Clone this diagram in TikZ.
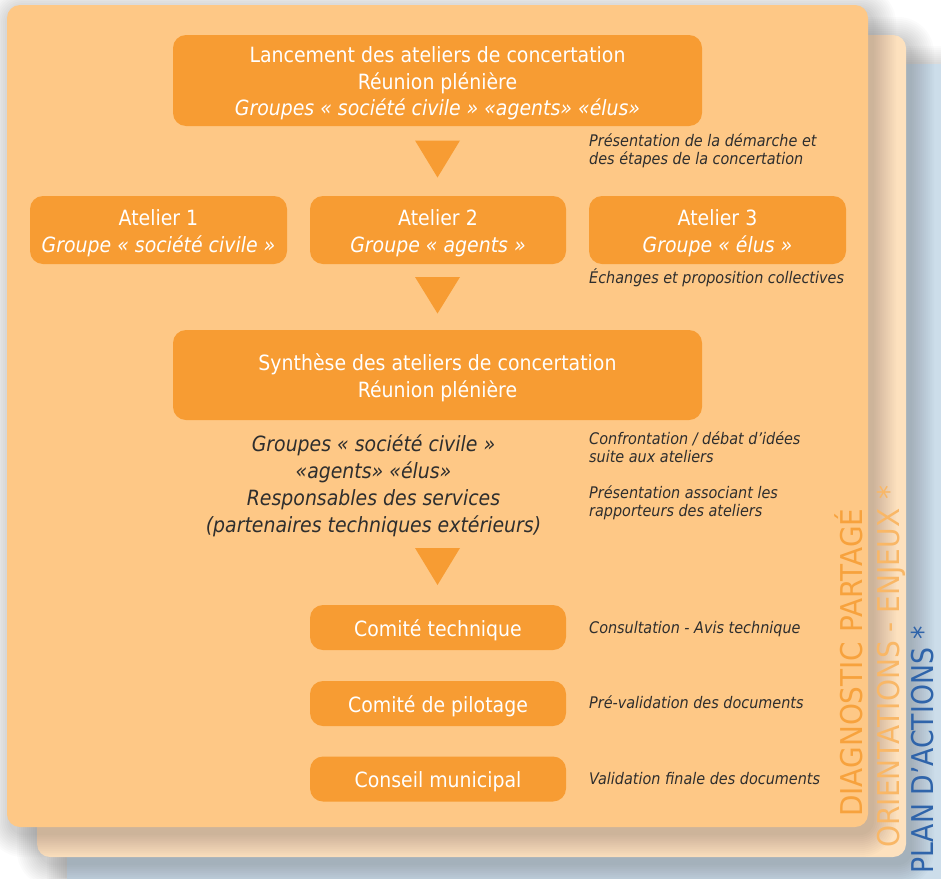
\documentclass[tikz,border=0pt]{standalone}
\usepackage{fontspec}
\usepackage{graphicx}
\setmainfont{DejaVu Sans}[FakeStretch=0.9]
\newfontfamily\vfont{DejaVu Sans}
\definecolor{frontc}{HTML}{FEC886}
\definecolor{midc}{HTML}{FDE1BE}
\definecolor{backc}{HTML}{CCDDEA}
\definecolor{boxc}{HTML}{F79C33}
\definecolor{notec}{HTML}{2E2E2E}
\definecolor{diagc}{HTML}{F7A23D}
\definecolor{orientc}{HTML}{F9B766}
\definecolor{planc}{HTML}{2F64AA}
\newcommand\fbig{\fontsize{21}{26.5}\selectfont}
\newcommand\fmidit{\fontsize{21}{27}\selectfont\itshape}
\newcommand\fsmall{\fontsize{16}{18}\selectfont\itshape}
\newcommand\fvert{\fontsize{30}{32}\selectfont\vfont}
\newcommand\tstrut{\rule{0pt}{22pt}}
\newcommand\softshadow[4]{%
  \foreach \k [evaluate=\k as \rr using 12+\k*2, evaluate=\k as \dd using \k*2] in {1,...,12}{%
    \fill[black, opacity=0.015, rounded corners=\rr pt]
      ({#1-\dd+4},{#2-\dd+6}) rectangle ({#3+\dd+4},{#4+\dd+6});
  }}
\begin{document}
\begin{tikzpicture}[x=1pt,y=-1pt,
  box/.style={fill=boxc, rounded corners=13pt, text=white, align=center,
    inner sep=0pt, font=\fbig},
  note/.style={text=notec, align=left, inner sep=0pt, font=\fsmall},
  vtitle/.style={rotate=90, anchor=base west, inner sep=0pt, font=\fvert},
  tri/.style={fill=boxc},
  card/.style={rounded corners=13pt}]
\useasboundingbox (0,0) rectangle (941,878);
\clip (0,0) rectangle (941,878);
\fill[white] (0,0) rectangle (941,878);
% stacked cards
\softshadow{67}{64}{1000}{940}
\fill[card, backc] (67,64) rectangle (1000,940);
\softshadow{37}{35}{906}{857}
\fill[card, midc] (37,35) rectangle (906,857);
\softshadow{7}{5}{868}{827}
\fill[card, frontc] (7,5) rectangle (868,827);
% vertical titles
\node[vtitle, text=diagc] (diag) at (862,817)
  {\scalebox{0.93}[1]{DIAGNOSTIC PARTAGÉ}};
\node[vtitle, text=orientc] (orient) at (899,848)
  {\scalebox{0.935}[1]{ORIENTATIONS - ENJEUX *}};
\node[vtitle, text=planc] (plan) at (933,874)
  {\scalebox{0.89}[1]{PLAN D’ACTIONS *}};
% main boxes
\node[box, minimum width=529, minimum height=91] (lanc) at (437.5,80.5)
  {\tstrut Lancement des ateliers de concertation\\Réunion plénière\\\textit{Groupes « société civile » «agents» «élus»}};
\node[box, minimum width=257, minimum height=68] (at1) at (158.5,230)
  {\tstrut Atelier 1\\\textit{Groupe « société civile »}};
\node[box, minimum width=256, minimum height=68] (at2) at (438,230)
  {\tstrut Atelier 2\\\textit{Groupe « agents »}};
\node[box, minimum width=257, minimum height=68] (at3) at (717.5,230)
  {\tstrut Atelier 3\\\textit{Groupe « élus »}};
\node[box, minimum width=529, minimum height=90] (synth) at (437.5,375)
  {\tstrut Synthèse des ateliers de concertation\\Réunion plénière};
\node[text=notec, align=center, inner sep=0pt, font=\fmidit] (groupes) at (373.5,486)
  {Groupes « société civile »\\«agents» «élus»\\Responsables des services\\(partenaires techniques extérieurs)};
\node[box, minimum width=256, minimum height=45] (ctech) at (438,627.5) {\tstrut Comité technique};
\node[box, minimum width=256, minimum height=45] (cpil) at (438,703.5) {\tstrut Comité de pilotage};
\node[box, minimum width=256, minimum height=45] (cmun) at (438,779) {\tstrut Conseil municipal};
% arrows (triangles)
\fill[tri] (415,140.5) -- (460,140.5) -- (437.5,177.5) -- cycle;
\fill[tri] (415,277) -- (460,277) -- (437.5,313.5) -- cycle;
\fill[tri] (415,548) -- (460,548) -- (437.5,585) -- cycle;
% notes
\node[note, anchor=west] (n1) at (589,151)
  {Présentation de la démarche et\\des étapes de la concertation};
\node[note, anchor=base west] (n2) at (589,283) {Échanges et proposition collectives};
\node[note, anchor=west] (n3) at (589,447)
  {Confrontation / débat d’idées\\suite aux ateliers};
\node[note, anchor=west] (n4) at (589,503)
  {Présentation associant les\\rapporteurs des ateliers};
\node[note, anchor=base west] (n5) at (589,633) {Consultation - Avis technique};
\node[note, anchor=base west] (n6) at (589,708) {Pré-validation des documents};
\node[note, anchor=base west] (n7) at (589,784) {Validation finale des documents};
\end{tikzpicture}
\end{document}
